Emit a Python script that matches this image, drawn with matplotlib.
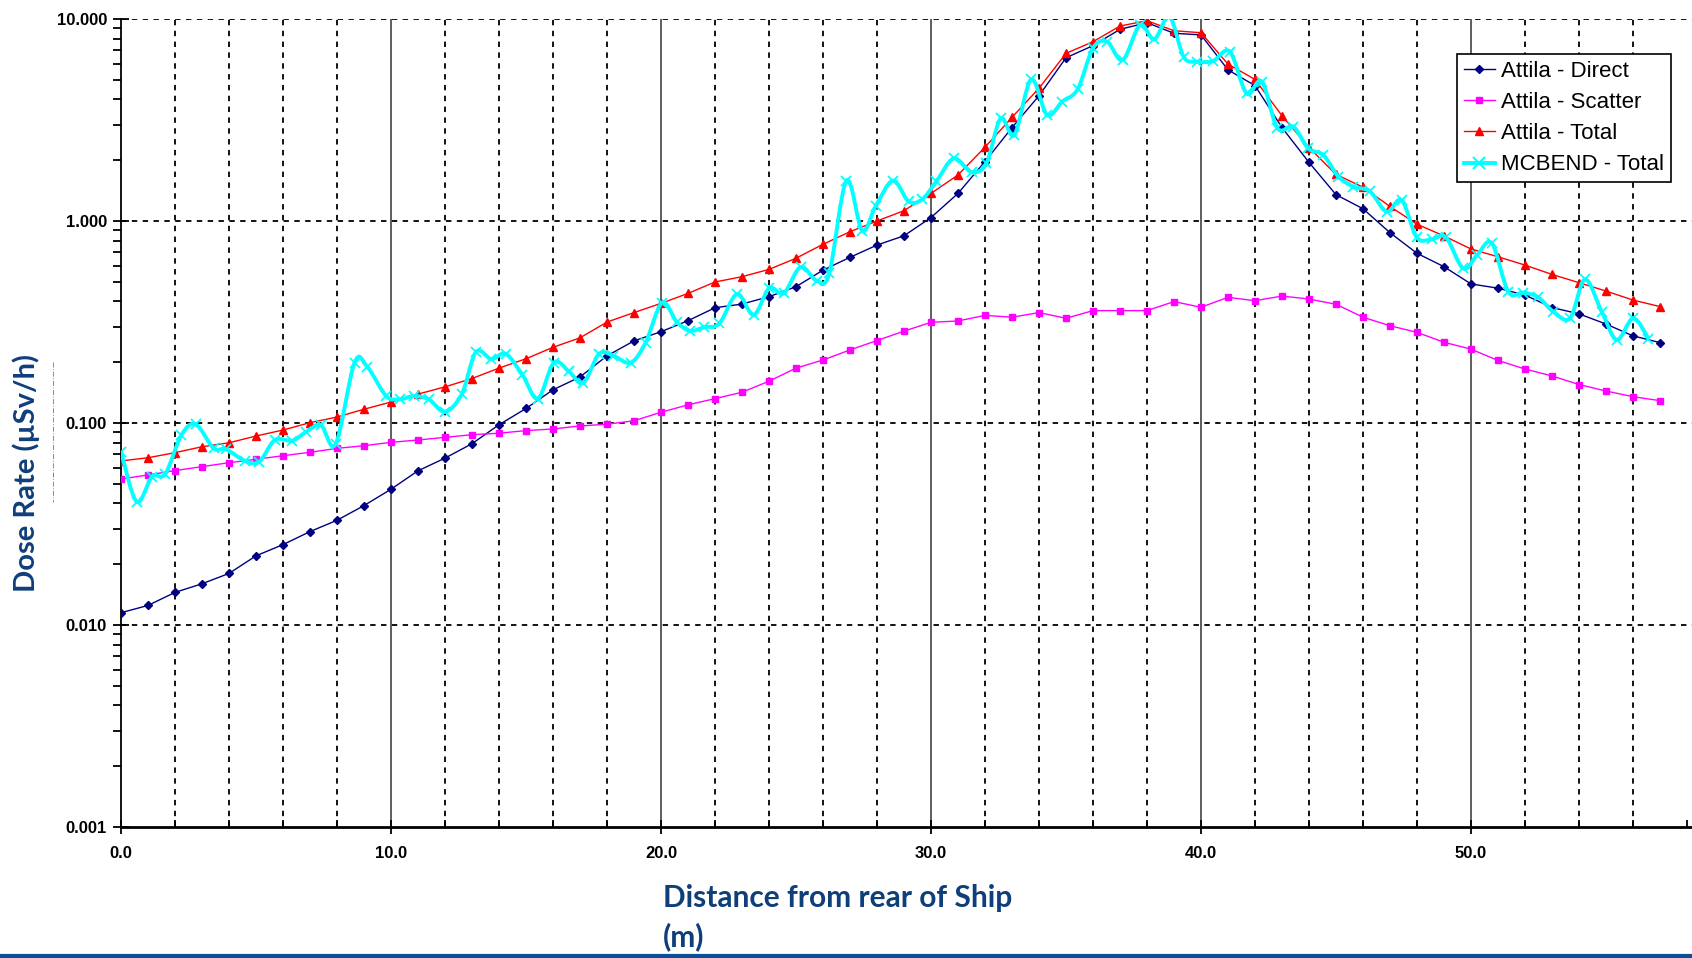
import numpy as np
import matplotlib
matplotlib.use('Agg')
import matplotlib.pyplot as plt
from matplotlib.path import Path
from matplotlib.patches import PathPatch
from matplotlib.lines import Line2D
from matplotlib.ticker import FixedLocator, MultipleLocator, LogLocator, NullFormatter, FuncFormatter

# Attila results, one value per metre from the stern
dist = np.arange(0, 58)
direct = [0.0115, 0.0125, 0.0145, 0.016, 0.018, 0.022, 0.025, 0.029, 0.033, 0.039,
          0.047, 0.058, 0.067, 0.079, 0.098, 0.118, 0.146, 0.169, 0.215, 0.255,
          0.283, 0.321, 0.372, 0.388, 0.422, 0.473, 0.571, 0.661, 0.760, 0.845,
          1.04, 1.37, 1.97, 2.90, 4.17, 6.43, 7.38, 8.89, 9.59, 8.50,
          8.34, 5.60, 4.68, 2.90, 1.95, 1.35, 1.15, 0.875, 0.692, 0.594,
          0.488, 0.465, 0.430, 0.373, 0.347, 0.309, 0.270, 0.250]
scatter = [0.0528, 0.0553, 0.0581, 0.0608, 0.0636, 0.0661, 0.0689, 0.0716, 0.0749, 0.0772,
           0.0802, 0.0824, 0.0849, 0.0875, 0.089, 0.0917, 0.0934, 0.0967, 0.0986, 0.1026,
           0.113, 0.123, 0.132, 0.142, 0.161, 0.187, 0.205, 0.230, 0.256, 0.285,
           0.315, 0.320, 0.341, 0.334, 0.352, 0.330, 0.360, 0.360, 0.360, 0.399,
           0.374, 0.419, 0.403, 0.425, 0.411, 0.387, 0.334, 0.303, 0.281, 0.251,
           0.232, 0.204, 0.185, 0.171, 0.155, 0.144, 0.135, 0.129]
total = [0.0649, 0.0673, 0.0713, 0.0763, 0.0798, 0.0862, 0.0923, 0.1004, 0.107, 0.117,
         0.127, 0.139, 0.151, 0.166, 0.187, 0.208, 0.237, 0.264, 0.316, 0.352,
         0.391, 0.438, 0.499, 0.530, 0.576, 0.654, 0.767, 0.885, 1.00, 1.125,
         1.37, 1.69, 2.32, 3.26, 4.54, 6.76, 7.72, 9.23, 9.81, 8.75,
         8.55, 5.98, 5.02, 3.32, 2.31, 1.70, 1.47, 1.18, 0.964, 0.843,
         0.727, 0.665, 0.605, 0.544, 0.495, 0.450, 0.406, 0.377]

# MCBEND tallies
mc_dist = [0.0, 0.58, 1.15, 1.64, 2.24, 2.77, 3.43, 3.89, 4.59, 5.12,
           5.70, 6.34, 6.87, 7.40, 7.95, 8.65, 9.12, 9.82, 10.33, 10.84,
           11.40, 12.0, 12.62, 13.15, 13.72, 14.25, 14.87, 15.44, 16.03, 16.59,
           17.12, 17.71, 18.24, 18.88, 19.43, 20.04, 20.58, 21.07, 21.6, 22.16,
           22.82, 23.43, 24.01, 24.54, 25.17, 25.77, 26.23, 26.87, 27.45, 27.95,
           28.59, 29.17, 29.67, 30.2, 30.84, 31.5, 32.05, 32.58, 33.09, 33.71,
           34.3, 34.86, 35.43, 36.0, 36.52, 37.1, 37.74, 38.27, 38.83, 39.36,
           39.86, 40.45, 41.07, 41.69, 42.25, 42.83, 43.42, 43.97, 44.53, 45.09,
           45.64, 46.26, 46.88, 47.43, 47.99, 48.54, 49.07, 49.71, 50.23, 50.77,
           51.38, 51.94, 52.49, 53.05, 53.67, 54.22, 54.84, 55.40, 56.01, 56.57]
mc_total = [0.0721, 0.0408, 0.0542, 0.056, 0.0873, 0.0984, 0.0750, 0.0741, 0.065, 0.0643,
            0.0824, 0.0817, 0.0906, 0.0977, 0.0787, 0.199, 0.190, 0.136, 0.131, 0.136,
            0.131, 0.1137, 0.139, 0.225, 0.207, 0.220, 0.173, 0.132, 0.199, 0.180,
            0.158, 0.220, 0.215, 0.199, 0.25, 0.394, 0.317, 0.286, 0.298, 0.311,
            0.435, 0.343, 0.465, 0.438, 0.591, 0.506, 0.550, 1.585, 0.896, 1.185,
            1.585, 1.25, 1.28, 1.57, 2.04, 1.75, 1.93, 3.22, 2.67, 5.02,
            3.35, 3.90, 4.49, 7.17, 7.73, 6.27, 9.34, 7.93, 10.26, 6.50,
            6.15, 6.20, 6.89, 4.28, 4.90, 2.88, 2.93, 2.29, 2.12, 1.66,
            1.48, 1.40, 1.11, 1.27, 0.830, 0.811, 0.830, 0.583, 0.679, 0.777,
            0.447, 0.442, 0.419, 0.356, 0.330, 0.514, 0.356, 0.258, 0.330, 0.262]

TITLE_BLUE = '#0F3F7B'


def smooth_path(x, y):
    # spreadsheet-style smoothed line: cubic Bezier segments with
    # control points taken from neighbouring points (in log-y space)
    x = np.asarray(x, float)
    ly = np.log10(np.asarray(y, float))
    pts = np.column_stack([x, ly])
    n = len(pts)
    verts = [pts[0]]
    codes = [Path.MOVETO]
    for i in range(n - 1):
        p0 = pts[max(i - 1, 0)]
        p1 = pts[i]
        p2 = pts[i + 1]
        p3 = pts[min(i + 2, n - 1)]
        c1 = p1 + (p2 - p0) / 6.0
        c2 = p2 - (p3 - p1) / 6.0
        verts += [c1, c2, p2]
        codes += [Path.CURVE4] * 3
    verts = np.array(verts)
    verts[:, 1] = 10 ** verts[:, 1]
    return Path(verts, codes)


fig = plt.figure(figsize=(16.92, 9.58), dpi=100)
W, H = 1692.0, 958.0
ax = fig.add_axes([121 / W, (H - 827) / H, (W - 121) / W, (827 - 19) / H])

ax.set_yscale('log')
ax.set_ylim(0.001, 10)
ax.set_xlim(0, (W - 121) / 27.0)

# grid: dashed decades, dashed 2 m lines, solid 10 m lines
for v in [0.01, 0.1, 1, 10]:
    ax.axhline(v, color='black', lw=1.3, ls=(0, (3, 3)), zorder=1)
for d in np.arange(2, 58, 2):
    if d % 10 == 0:
        ax.axvline(d, color='#333333', lw=1.1, zorder=1)
    else:
        ax.axvline(d, color='black', lw=1.3, ls=(0, (3, 3)), zorder=1)

ax.plot(dist, direct, color='#000080', lw=1.0, marker='D', ms=4.2,
        mfc='#000080', mec='#000080', label='Attila - Direct', zorder=3)
ax.plot(dist, scatter, color='#FF00FF', lw=1.0, marker='s', ms=4.2,
        mfc='#FF00FF', mec='#FF00FF', label='Attila - Scatter', zorder=3)
ax.plot(dist, total, color='#FF0000', lw=1.0, marker='^', ms=5.5,
        mfc='#FF0000', mec='#FF0000', label='Attila - Total', zorder=3)

ax.add_patch(PathPatch(smooth_path(mc_dist, mc_total), fill=False,
                       edgecolor='#00FFFF', lw=2.8, zorder=4))
ax.plot(mc_dist, mc_total, ls='none', marker='x', ms=7, mew=1.3,
        color='#00FFFF', zorder=4)
mc_handle = Line2D([], [], color='#00FFFF', lw=2.8, marker='x', ms=9, mew=1.5)

for s in ['top', 'right']:
    ax.spines[s].set_visible(False)
ax.spines['bottom'].set_linewidth(2.0)
ax.spines['left'].set_linewidth(1.3)

ax.xaxis.set_major_locator(FixedLocator([0, 10, 20, 30, 40, 50]))
ax.xaxis.set_minor_locator(MultipleLocator(2))
ax.xaxis.set_major_formatter(FuncFormatter(lambda v, p: '%.1f' % v))
ax.yaxis.set_major_locator(FixedLocator([0.001, 0.01, 0.1, 1, 10]))
ax.yaxis.set_minor_locator(LogLocator(base=10, subs=np.arange(2, 10)))
ax.yaxis.set_minor_formatter(NullFormatter())
ax.yaxis.set_major_formatter(FuncFormatter(lambda v, p: '%.3f' % v))

ax.tick_params(axis='x', which='major', direction='inout', length=10, width=1.3, pad=9)
ax.tick_params(axis='x', which='minor', direction='in', length=5, width=1.3)
ax.tick_params(axis='y', which='major', direction='inout', length=12, width=1.3, pad=4)
ax.tick_params(axis='y', which='minor', direction='out', length=6, width=1.3)
for lab in ax.get_xticklabels() + ax.get_yticklabels():
    lab.set_fontfamily('Liberation Sans')
    lab.set_fontweight('bold')
    lab.set_fontsize(12)

handles, labels = ax.get_legend_handles_labels()
handles.append(mc_handle)
labels.append('MCBEND - Total')
leg = ax.legend(handles, labels, loc='upper left',
                bbox_to_anchor=(1457 / W, 1 - 54 / H), bbox_transform=fig.transFigure,
                borderaxespad=0, fancybox=False, framealpha=1, edgecolor='black',
                prop={'family': 'Liberation Sans', 'size': 16.0},
                handlelength=1.4, handletextpad=0.3, labelspacing=0.46,
                borderpad=0.3, numpoints=1)
leg.get_frame().set_linewidth(1.2)

fig.text(26 / W, 1 - 473 / H, 'Dose Rate (\u00b5Sv/h)', rotation=90,
         ha='center', va='center', color=TITLE_BLUE, fontsize=21,
         fontweight='bold', family='Lato')
fig.text(663 / W, 1 - 898 / H, 'Distance from rear of Ship', ha='left',
         va='center', color=TITLE_BLUE, fontsize=21.5, fontweight='bold', family='Lato')
fig.text(663 / W, 1 - 937 / H, '(m)', ha='left', va='center',
         color=TITLE_BLUE, fontsize=21.5, fontweight='bold', family='Lato')

# faint guide line next to the y title and the footer rule
fig.add_artist(Line2D([53 / W, 53 / W], [1 - 362 / H, 1 - 502 / H],
                      color='#777777', lw=0.6, ls=(0, (6, 2, 1, 2))))
fig.add_artist(Line2D([0, 1], [1 - 956 / H, 1 - 956 / H],
                      color='#0B4F96', lw=3.0))

fig.savefig('out.png', dpi=100)
